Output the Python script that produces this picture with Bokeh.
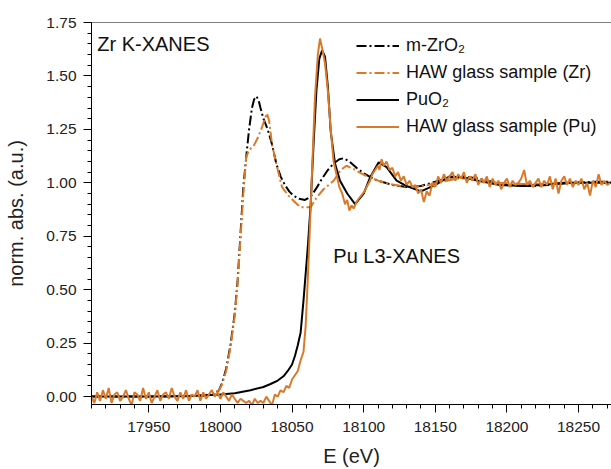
from bokeh.plotting import figure
from bokeh.models import (Legend, LegendItem, Label, Span, SingleIntervalTicker,
                          NumeralTickFormatter, Range1d)
from bokeh.embed import file_html
from bokeh.resources import INLINE

# ---------------- data ----------------
# m-ZrO2 (Zr K-edge reference)
zro2_E = [17910, 17950, 17985, 17992, 17996, 17999, 18001, 18004, 18007, 18010, 18012,
          18014, 18016, 18018, 18020, 18022, 18023.5, 18025, 18026.5, 18028, 18030,
          18033, 18036, 18039, 18042, 18045, 18048, 18051, 18055, 18059, 18063, 18067,
          18071, 18075, 18079, 18083, 18086, 18090, 18095, 18100, 18105, 18110, 18115,
          18120, 18125, 18130, 18140, 18150, 18160, 18170, 18180, 18190, 18200, 18215,
          18230, 18245, 18260, 18275]
zro2_v = [0.0, 0.0, 0.003, 0.008, 0.015, 0.03, 0.06, 0.13, 0.24, 0.39, 0.54,
          0.76, 0.98, 1.12, 1.25, 1.35, 1.39, 1.405, 1.39, 1.35, 1.30,
          1.25, 1.18, 1.09, 1.03, 0.99, 0.96, 0.94, 0.925, 0.92, 0.935, 0.975,
          1.02, 1.06, 1.09, 1.11, 1.115, 1.10, 1.07, 1.045, 1.025, 1.01, 1.0,
          0.99, 0.985, 0.98, 0.985, 1.005, 1.025, 1.03, 1.02, 1.005, 0.99, 0.985,
          0.99, 1.0, 1.005, 1.005]

# HAW glass sample, Zr K-edge
hawzr_E = [17910, 17950, 17985, 17992, 17996, 17999, 18001, 18004, 18007, 18010, 18012,
           18014, 18016, 18018, 18020, 18023, 18026, 18029, 18031, 18032.5, 18034,
           18036, 18039.5, 18043, 18047.5, 18053.5, 18056, 18063, 18067, 18072, 18079,
           18084, 18088, 18093, 18098, 18104, 18110, 18118, 18126, 18135, 18145, 18155,
           18165, 18175, 18185, 18195, 18210, 18225, 18240, 18255, 18275]
hawzr_v = [0.0, 0.0, 0.005, 0.01, 0.018, 0.03, 0.055, 0.12, 0.23, 0.38, 0.53,
           0.74, 0.95, 1.12, 1.155, 1.17, 1.21, 1.26, 1.30, 1.325, 1.29,
           1.18, 1.075, 0.98, 0.94, 0.90, 0.886, 0.886, 0.93, 0.97, 1.01,
           1.06, 1.08, 1.065, 1.045, 1.025, 1.01, 0.995, 0.985, 0.98, 0.99, 1.005,
           1.02, 1.02, 1.01, 1.0, 0.995, 0.995, 1.0, 1.0, 1.0]

# PuO2 (Pu L3-edge reference)
puo2_E = [17910, 17950, 17980, 18000, 18010, 18021, 18030, 18035, 18040, 18044, 18047,
          18050, 18052, 18054, 18056, 18058, 18061, 18063, 18065, 18067, 18069, 18071,
          18073, 18075, 18077, 18080, 18083.5, 18088.5, 18094, 18100, 18104.5, 18110.5,
          18116, 18123, 18130, 18140, 18150, 18160, 18170, 18180, 18195, 18210, 18225,
          18240, 18260, 18275]
puo2_v = [0.0, 0.0, 0.003, 0.01, 0.016, 0.03, 0.045, 0.059, 0.075, 0.095, 0.12,
          0.15, 0.19, 0.24, 0.30, 0.45, 0.70, 0.90, 1.18, 1.43, 1.58, 1.62,
          1.59, 1.45, 1.24, 1.09, 1.01, 0.95, 0.90, 0.95, 1.026, 1.096,
          1.073, 1.01, 0.985, 0.96, 0.99, 1.03, 1.025, 1.01, 0.99, 0.985, 0.99,
          1.0, 1.0, 1.0]

# HAW glass sample, Pu L3-edge (noisy)
hawpu_base_E = list(range(17910, 18040, 2))
hawpu_base_v = [0.00, -0.03, 0.02, -0.02, 0.03, -0.01, 0.04, -0.03, 0.01, 0.02,
                -0.02, 0.00, 0.03, -0.01, -0.04, 0.02, 0.01, -0.02, 0.04, -0.01,
                0.02, -0.03, 0.00, 0.03, -0.02, 0.01, 0.02, -0.01, 0.04, 0.00,
                -0.02, 0.02, -0.01, 0.03, -0.02, 0.01, 0.00, 0.03, -0.02, 0.02,
                -0.01, 0.01, 0.03, 0.00, 0.02, -0.01, 0.02, 0.00, -0.02, 0.01,
                -0.01, -0.03, -0.01, -0.02, -0.03, -0.02, -0.04, -0.01, -0.03, -0.02,
                -0.03, 0.00, -0.02, -0.04, 0.01]
hawpu_edge_E = [18040, 18042, 18044, 18046, 18048, 18050, 18052, 18054, 18056, 18058,
                18059.5, 18061, 18062.5, 18064, 18066, 18068, 18069.5, 18071, 18073,
                18075, 18077, 18079, 18081, 18083, 18085, 18087, 18088.5, 18090,
                18091.5, 18093, 18095, 18097, 18100, 18102, 18104.5, 18106, 18108,
                18110, 18111, 18112.5, 18114, 18116, 18118]
hawpu_edge_v = [0.00, 0.03, 0.02, 0.05, 0.04, 0.08, 0.10, 0.12, 0.17, 0.21,
                0.33, 0.55, 0.80, 1.06, 1.40, 1.60, 1.675, 1.63, 1.56,
                1.43, 1.25, 1.10, 1.04, 0.98, 0.95, 0.90, 0.92, 0.87,
                0.895, 0.88, 0.91, 0.93, 0.955, 0.98, 1.01, 1.04, 1.06,
                1.08, 1.06, 1.11, 1.08, 1.10, 1.06]
hawpu_tail_E = list(range(18120, 18274, 2))
hawpu_tail_v = [1.07, 1.03, 1.05, 1.01, 1.03, 0.99, 1.01, 0.98, 0.99, 0.95,
                0.97, 0.91, 0.96, 0.94, 1.00, 0.98, 1.03, 1.00, 1.04, 1.01,
                1.03, 1.05, 1.01, 1.04, 1.02, 1.05, 1.00, 1.03, 1.01, 1.04,
                0.99, 1.02, 1.00, 1.03, 0.98, 1.02, 0.99, 1.01, 0.97, 1.00,
                1.02, 0.98, 1.01, 0.99, 1.00, 1.02, 1.06, 0.99, 1.01, 0.98,
                1.00, 1.02, 0.98, 1.01, 0.99, 1.03, 0.97, 1.02, 0.95, 1.01,
                1.03, 0.99, 1.02, 0.98, 1.01, 0.99, 1.02, 0.97, 1.00, 0.94,
                1.01, 0.98, 1.04, 0.99, 1.01, 0.99, 1.00]
hawpu_E = hawpu_base_E + hawpu_edge_E + hawpu_tail_E
hawpu_v = hawpu_base_v + hawpu_edge_v + hawpu_tail_v

labels = ["m-ZrO\u2082", "HAW glass sample (Zr)", "PuO\u2082", "HAW glass sample (Pu)"]

# ---------------- styling ----------------
FONT = "Liberation Sans"
ORANGE = "#D97A2B"
BLACK = "#000000"
DASHDOT = "10 3 2 3"

p = figure(width=611, height=469, output_backend="svg", toolbar_location=None,
           x_range=Range1d(17910, 18273), y_range=Range1d(-0.037, 1.75),
           min_border_left=91, min_border_right=0, min_border_top=22, min_border_bottom=65)
p.outline_line_color = None
p.xgrid.visible = False
p.ygrid.visible = False
p.background_fill_color = "white"
p.border_fill_color = "white"

r1 = p.line(zro2_E, zro2_v, line_color=BLACK, line_width=2, line_dash=DASHDOT)
r2 = p.line(hawzr_E, hawzr_v, line_color=ORANGE, line_width=2, line_dash=DASHDOT)
r3 = p.line(puo2_E, puo2_v, line_color=BLACK, line_width=2)
r4 = p.line(hawpu_E, hawpu_v, line_color=ORANGE, line_width=2)

# axes
xa = p.xaxis[0]
xa.ticker = SingleIntervalTicker(interval=50, num_minor_ticks=5)
ya = p.yaxis[0]
ya.ticker = SingleIntervalTicker(interval=0.25, num_minor_ticks=5)
ya.formatter = NumeralTickFormatter(format="0.00")
for ax in (xa, ya):
    ax.axis_line_color = "black"
    ax.axis_line_width = 1
    ax.major_tick_line_color = "black"
    ax.minor_tick_line_color = "black"
    ax.major_tick_in = 0
    ax.major_tick_out = 8
    ax.minor_tick_in = 0
    ax.minor_tick_out = 4
    ax.major_label_text_font = FONT
    ax.major_label_text_font_size = "15.5px"
    ax.major_label_text_color = "#222222"
    ax.axis_label_text_font = FONT
    ax.axis_label_text_font_size = "20px"
    ax.axis_label_text_font_style = "normal"
    ax.axis_label_text_color = "#222222"
xa.axis_label = "E (eV)"
ya.axis_label = "norm. abs. (a.u.)"
xa.major_label_standoff = 9
xa.axis_label_standoff = 10
ya.major_label_standoff = 7
ya.axis_label_standoff = 16

p.add_layout(Span(location=1.75, dimension="width", line_color="black", line_width=1))

p.add_layout(Label(x=17914, y=1.70, text="Zr K-XANES", text_font=FONT,
                   text_font_size="20px", text_baseline="top", text_color="#111111"))
p.add_layout(Label(x=18078.8, y=0.66, text="Pu L3-XANES", text_font=FONT,
                   text_font_size="20px", text_baseline="middle", text_color="#111111"))

legend = Legend(items=[LegendItem(label=labels[0], renderers=[r1]),
                       LegendItem(label=labels[1], renderers=[r2]),
                       LegendItem(label=labels[2], renderers=[r3]),
                       LegendItem(label=labels[3], renderers=[r4])],
                location=(265, 267), padding=0, margin=0, spacing=6,
                glyph_width=43, glyph_height=21, label_height=21, label_standoff=7,
                label_text_font=FONT, label_text_font_size="18px",
                label_text_color="#111111",
                background_fill_alpha=0, border_line_color=None)
p.add_layout(legend)

open("out.html", "w").write(file_html(p, INLINE))
